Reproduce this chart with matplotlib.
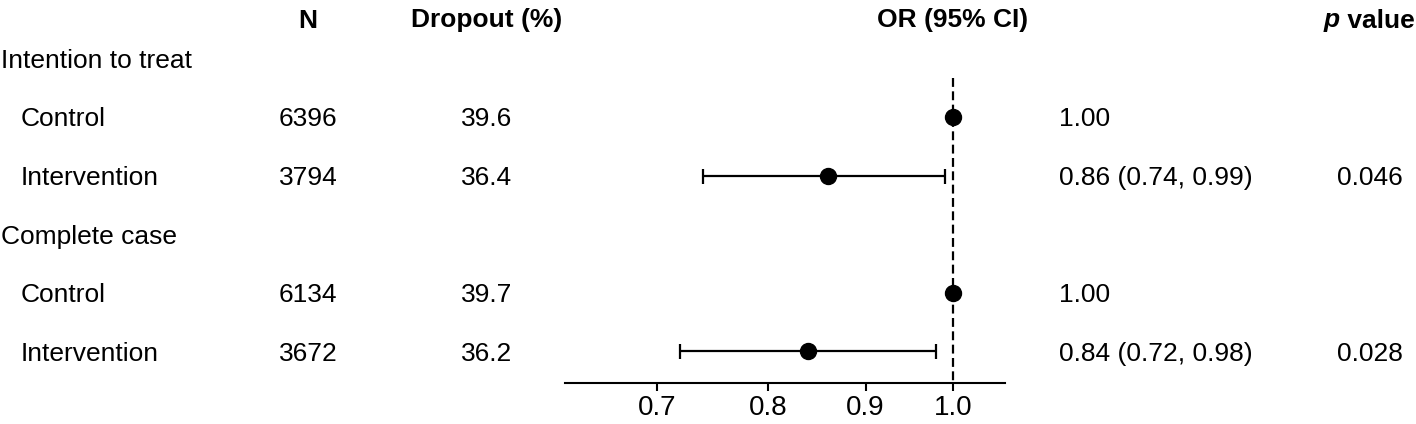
import matplotlib
matplotlib.use('Agg')
import matplotlib.pyplot as plt
import matplotlib.transforms as mtransforms
from matplotlib.ticker import FixedLocator, FixedFormatter, NullLocator

plt.rcParams['font.family'] = ['Liberation Sans', 'DejaVu Sans']

# data
groups = ['Intention to treat', 'Complete case']
arms = ['Control', 'Intervention', 'Control', 'Intervention']
n_total = [6396, 3794, 6134, 3672]
dropout_pct = [39.6, 36.4, 39.7, 36.2]
or_est = [1.00, 0.86, 1.00, 0.84]
ci_low = [None, 0.74, None, 0.72]
ci_high = [None, 0.99, None, 0.98]
p_values = ['', '0.046', '', '0.028']
x_ticks = [0.7, 0.8, 0.9, 1.0]
x_tick_labels = ['0.7', '0.8', '0.9', '1.0']

W, H = 1416, 424
ROW_PX = 58.5
ROW1_PX = 58.5
FS = 19


def px_to_row(py):
    return 1 + (py - ROW1_PX) / ROW_PX


fig = plt.figure(figsize=(W / 100, H / 100), dpi=100)

# full-size axes holding the table text
tab = fig.add_axes([0, 0, 1, 1])
tab.set_xlim(0, W)
tab.set_ylim(px_to_row(H), px_to_row(0))
tab.axis('off')

# forest panel, same vertical scale
left_px, right_px = 565, 1005
ax = fig.add_axes([left_px / W, 0, (right_px - left_px) / W, 1])
ax.set_ylim(px_to_row(H), px_to_row(0))
ax.set_xscale('log')
ax.set_xlim(0.6265, 1.0648)
ax.patch.set_alpha(0)
for s in ['left', 'right', 'top']:
    ax.spines[s].set_visible(False)
axis_row = px_to_row(383)
ax.spines['bottom'].set_position(('data', axis_row))
ax.spines['bottom'].set_linewidth(1.5)
ax.xaxis.set_major_locator(FixedLocator(x_ticks))
ax.xaxis.set_major_formatter(FixedFormatter(x_tick_labels))
ax.xaxis.set_minor_locator(NullLocator())
ax.tick_params(axis='x', direction='out', length=5.8, width=1.5, labelsize=20, pad=3)
ax.set_yticks([])

base_off = 9.5 / ROW_PX  # half cap height, rows -> baseline

# header row
hdr_y = px_to_row(18) + base_off
kw = dict(fontsize=FS, fontweight='bold', va='baseline')
tab.text(308, hdr_y, 'N', ha='center', **kw)
tab.text(487, hdr_y, 'Dropout (%)', ha='center', **kw)
trans = mtransforms.blended_transform_factory(ax.transData, tab.transData)
tab.text(1.0, hdr_y, 'OR (95% CI)', ha='center', transform=trans, **kw)
p_txt = tab.text(1324, hdr_y, 'p', ha='left', fontstyle='italic', **kw)
tab.annotate(' value', xy=(1, 0), xycoords=p_txt, ha='left', va='bottom',
             fontsize=FS, fontweight='bold')

row = 1
k = 0
for g in groups:
    tab.text(1, row + base_off, g, ha='left', va='baseline', fontsize=FS)
    row += 1
    for _ in range(2):
        y = row
        tab.text(21, y + base_off, arms[k], ha='left', va='baseline', fontsize=FS)
        tab.text(308, y + base_off, str(n_total[k]), ha='center', va='baseline', fontsize=FS)
        tab.text(487, y + base_off, f'{dropout_pct[k]:.1f}', ha='center', va='baseline', fontsize=FS)
        if ci_low[k] is None:
            label = f'{or_est[k]:.2f}'
            ax.plot(or_est[k], y, 'o', color='black', markersize=11.5, zorder=3)
        else:
            label = f'{or_est[k]:.2f} ({ci_low[k]:.2f}, {ci_high[k]:.2f})'
            ax.errorbar(or_est[k], y,
                        xerr=[[or_est[k] - ci_low[k]], [ci_high[k] - or_est[k]]],
                        fmt='o', color='black', markersize=11.5, elinewidth=1.6,
                        capsize=5.4, capthick=1.6, zorder=3)
        tab.text(1059, y + base_off, label, ha='left', va='baseline', fontsize=FS)
        tab.text(1370, y + base_off, p_values[k], ha='center', va='baseline', fontsize=FS)
        row += 1
        k += 1

ax.vlines(1.0, px_to_row(78), axis_row, colors='black', linewidth=1.6,
          linestyles=(0, (4, 2)), zorder=2)

fig.savefig('out.png', dpi=100)
